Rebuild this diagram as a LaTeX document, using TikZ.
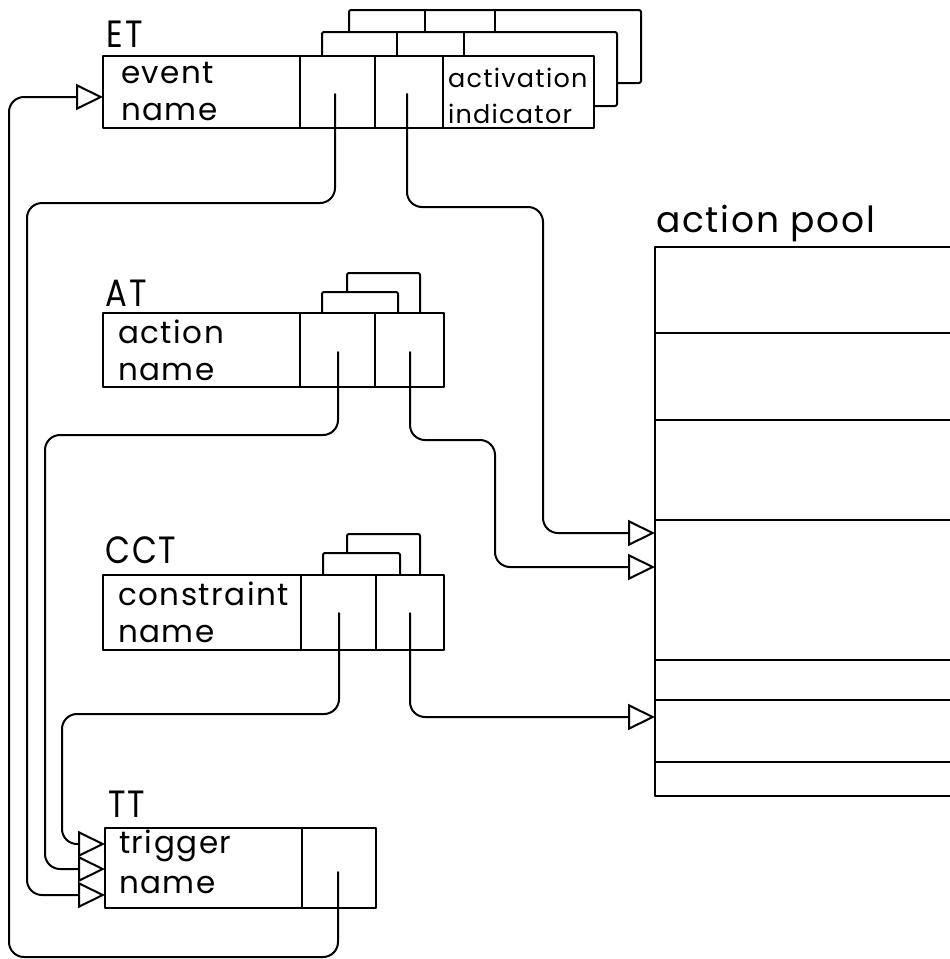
\documentclass[tikz,border=0pt]{standalone}
\usepackage{fontspec}
\setmainfont[LetterSpace=5]{Poppins}
\usetikzlibrary{arrows.meta}
\begin{document}
\begin{tikzpicture}[x=1pt,y=-1pt, line width=2pt, line join=round, line cap=round,
  lbl/.style={anchor=base west, inner sep=0pt, font=\fontsize{31}{31}\selectfont},
  tabname/.style={anchor=base west, inner sep=0pt, xscale=0.85, font=\fontsize{38}{38}\selectfont},
  pooltxt/.style={anchor=base west, inner sep=0pt, font=\fontsize{36}{36}\selectfont},
  smalltxt/.style={anchor=base west, inner sep=0pt, font=\fontsize{25.5}{25.5}\selectfont},
  frame/.style={rounded corners=2pt},
  conn/.style={rounded corners=15pt, -{Triangle[open,length=27pt,width=26pt,fill=white]}}]
\useasboundingbox (0,0) rectangle (950,959);

% ---------- ET ----------
\node[tabname] (etlabel) at (106,47) {ET};
\draw[frame] (349,32) -- (349,10) -- (641,10) -- (641,83) -- (617,83);
\draw (425,10) -- (425,32) (495,10) -- (495,32);
\draw[frame] (322,56) -- (322,32) -- (617,32) -- (617,106) -- (594,106);
\draw (397,32) -- (397,56) (464,32) -- (464,56);
\draw[fill=white] (103,56) rectangle (594,128);
\draw (300,56) -- (300,128) (375,56) -- (375,128) (443,56) -- (443,128);
\node[lbl] (etname1) at (120,83) {event};
\node[lbl] (etname2) at (120,120) {name};
\node[smalltxt] (etact1) at (447,87) {activation};
\node[smalltxt] (etact2) at (447,123) {indicator};
\coordinate (etin) at (103,97);
\coordinate (etp1) at (335,94);
\coordinate (etp2) at (407,94);

% ---------- AT ----------
\node[tabname] (atlabel) at (105,306) {AT};
\draw[frame] (347,292) -- (347,273) -- (420,273) -- (420,313);
\draw[frame] (322,313) -- (322,292) -- (398,292) -- (398,313);
\draw (103,313) rectangle (444,387);
\draw (300,313) -- (300,387) (375,313) -- (375,387);
\node[lbl] (atname1) at (117,343) {action};
\node[lbl] (atname2) at (117,380) {name};
\coordinate (atp1) at (338,352);
\coordinate (atp2) at (410,352);

% ---------- CCT ----------
\node[tabname] (cctlabel) at (105,563) {CCT};
\draw[frame] (347,553) -- (347,534) -- (420,534) -- (420,575);
\draw[frame] (323,575) -- (323,553) -- (400,553) -- (400,575);
\draw (103,575) rectangle (444,650);
\draw (301,575) -- (301,650) (376,575) -- (376,650);
\node[lbl] (cctname1) at (117,605) {constraint};
\node[lbl] (cctname2) at (117,642) {name};
\coordinate (cctp1) at (339,613);
\coordinate (cctp2) at (410,613);

% ---------- TT ----------
\node[tabname] (ttlabel) at (108,817) {TT};
\draw (105,828) rectangle (376,908);
\draw (302,828) -- (302,908);
\node[lbl] (ttname1) at (118,853) {trigger};
\node[lbl] (ttname2) at (118,893) {name};
\coordinate (ttp) at (338,872);
\coordinate (ttin1) at (105,844);
\coordinate (ttin2) at (105,869);
\coordinate (ttin3) at (105,895);

% ---------- action pool ----------
\node[pooltxt] (pooltitle) at (655,232) {action pool};
\draw (951,247) -- (655,247) -- (655,796) -- (951,796);
\foreach \yy in {333,420,520,660,700,762} \draw (655,\yy) -- (951,\yy);
\coordinate (apin1) at (655,533);
\coordinate (apin2) at (655,567);
\coordinate (apin3) at (655,717);

% ---------- connectors ----------
\draw[conn] (etp1) -- (335,203) -- (27,203) -- (27,895) -- (ttin3);
\draw[conn] (etp2) -- (407,207) -- (543,207) -- (543,533) -- (apin1);
\draw[conn] (atp1) -- (338,435) -- (45,435) -- (45,869) -- (ttin2);
\draw[conn] (atp2) -- (410,440) -- (495,440) -- (495,567) -- (apin2);
\draw[conn] (cctp1) -- (339,714) -- (62,714) -- (62,844) -- (ttin1);
\draw[conn] (cctp2) -- (410,717) -- (apin3);
\draw[conn] (ttp) -- (338,957) -- (9,957) -- (9,97) -- (etin);
\end{tikzpicture}
\end{document}
